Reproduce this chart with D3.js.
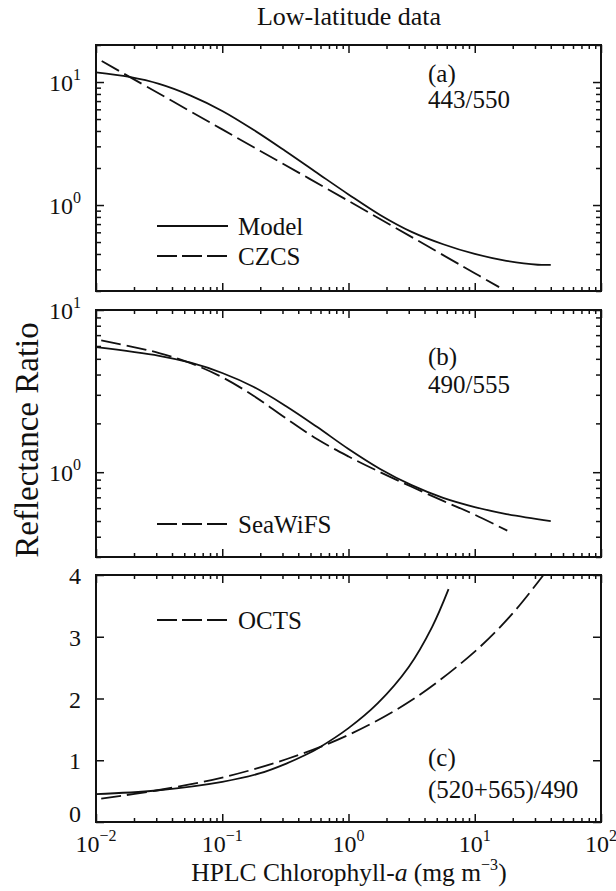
<!DOCTYPE html>
<html>
<head>
<meta charset="utf-8">
<script src="https://d3js.org/d3.v7.min.js"></script>
<style>
  body { margin: 0; background: #fff; }
</style>
</head>
<body>
<div id="chart"></div>
<script>

// chlorophyll (mg m^-3) and reflectance ratios
var chlModelA = [0.01, 0.0184, 0.0316, 0.0562, 0.1, 0.178, 0.316, 0.562, 1, 1.78, 3.16, 5.62, 10, 17.8, 31.6, 40];
var modelA    = [12.0, 11.0, 9.66, 7.76, 5.82, 4.07, 2.75, 1.83, 1.22, 0.83, 0.605, 0.48, 0.40, 0.352, 0.327, 0.326];
var chlCzcs   = [0.0111, 0.1, 1, 10, 15.6];
var czcs      = [14.8, 4.12, 1.08, 0.279, 0.215];

var chlModelB = [0.01, 0.0316, 0.0562, 0.1, 0.178, 0.316, 0.562, 1, 1.78, 3.16, 5.62, 10, 17.8, 40];
var modelB    = [5.9, 5.22, 4.73, 4.09, 3.35, 2.57, 1.905, 1.39, 1.047, 0.832, 0.695, 0.61, 0.552, 0.50];
var chlSeawifs = [0.011, 0.0316, 0.0562, 0.1, 0.178, 0.316, 0.562, 1, 1.78, 3.16, 5.62, 10, 18.1];
var seawifs    = [6.5, 5.43, 4.70, 3.85, 2.95, 2.16, 1.60, 1.25, 1.0, 0.813, 0.665, 0.547, 0.436];

var chlModelC = [0.01, 0.03, 0.1, 0.2, 0.325, 0.45, 0.58, 1, 1.7, 3.0, 4.6, 6.2];
var modelC    = [0.45, 0.51, 0.65, 0.79, 0.95, 1.08, 1.20, 1.52, 1.92, 2.51, 3.16, 3.77];
var chlOcts   = [0.011, 0.03, 0.1, 0.325, 1, 3.2, 10, 20, 35];
var octs      = [0.38, 0.51, 0.72, 1.02, 1.41, 1.98, 2.76, 3.38, 4.0];

var xTickExp = [-2, -1, 0, 1, 2];
var yTickExpA = [1, 0];
var yTickExpB = [1, 0];
var yTicksC = [0, 1, 2, 3, 4];

var FONT = 'Liberation Serif';
var W = 616, H = 891;
var svg = d3.select('#chart').append('svg')
  .attr('width', W).attr('height', H);

var x = d3.scaleLog().domain([0.01, 100]).range([96, 601]);

var panelA = { top: 45, bottom: 291 };
var panelB = { top: 310, bottom: 557 };
var panelC = { top: 575, bottom: 822 };

var yA = d3.scaleLog().domain([0.2, 20]).range([panelA.bottom, panelA.top]);
var yB = d3.scaleLog().domain([0.3, 10]).range([panelB.bottom, panelB.top]);
var yC = d3.scaleLinear().domain([0, 4]).range([panelC.bottom, panelC.top]);

// minor ticks of a log scale inside its domain
function logMinor(scale) {
  var d = scale.domain(), out = [];
  var lo = Math.floor(Math.log10(d[0])), hi = Math.ceil(Math.log10(d[1]));
  for (var e = lo; e < hi; e++) {
    for (var k = 2; k <= 9; k++) {
      var v = k * Math.pow(10, e);
      if (v >= d[0] * 0.999 && v <= d[1] * 1.001) out.push(v);
    }
  }
  return out;
}

var xMajor = xTickExp.map(function (e) { return Math.pow(10, e); });
var xMinor = logMinor(x);

function tickAxis(axisFn, scale, values, len) {
  return axisFn(scale).tickValues(values).tickSizeInner(-len).tickSizeOuter(0).tickFormat('');
}

function drawFrame(p, y, yMajor, yMinor) {
  var g = svg.append('g');
  var h = p.bottom - p.top;

  // x ticks, bottom and top, pointing in
  g.append('g').attr('transform', 'translate(0,' + p.bottom + ')').call(tickAxis(d3.axisBottom, x, xMajor, 8));
  g.append('g').attr('transform', 'translate(0,' + p.bottom + ')').call(tickAxis(d3.axisBottom, x, xMinor, 4));
  g.append('g').attr('transform', 'translate(0,' + p.top + ')').call(tickAxis(d3.axisTop, x, xMajor, 8));
  g.append('g').attr('transform', 'translate(0,' + p.top + ')').call(tickAxis(d3.axisTop, x, xMinor, 4));

  // y ticks, left and right
  g.append('g').attr('transform', 'translate(96,0)').call(tickAxis(d3.axisLeft, y, yMajor, 8));
  g.append('g').attr('transform', 'translate(601,0)').call(tickAxis(d3.axisRight, y, yMajor, 8));
  if (yMinor.length) {
    g.append('g').attr('transform', 'translate(96,0)').call(tickAxis(d3.axisLeft, y, yMinor, 5));
    g.append('g').attr('transform', 'translate(601,0)').call(tickAxis(d3.axisRight, y, yMinor, 5));
  }
  g.selectAll('.domain').remove();
  g.selectAll('.tick line').attr('stroke', '#111').attr('stroke-width', 1.5);

  g.append('rect')
    .attr('x', 96).attr('y', p.top)
    .attr('width', 601 - 96).attr('height', h)
    .attr('fill', 'none').attr('stroke', '#111').attr('stroke-width', 2);
}

drawFrame(panelA, yA, yTickExpA.map(function (e) { return Math.pow(10, e); }), logMinor(yA));
drawFrame(panelB, yB, yTickExpB.map(function (e) { return Math.pow(10, e); }), logMinor(yB));
drawFrame(panelC, yC, yTicksC, []);

function txt(xp, yp, size) {
  return svg.append('text').attr('x', xp).attr('y', yp)
    .attr('font-family', FONT).attr('font-size', size).attr('fill', '#111');
}

function powLabel(xp, yp, exp, anchor) {
  var t = txt(xp, yp, 24).attr('text-anchor', anchor);
  t.append('tspan').text('10');
  t.append('tspan').attr('font-size', 16).attr('dy', -11).text(String(exp).replace('-', '\u2212'));
}

// y tick labels
yTickExpA.forEach(function (e) { powLabel(81, yA(Math.pow(10, e)) + 9, e, 'end'); });
yTickExpB.forEach(function (e) { powLabel(81, yB(Math.pow(10, e)) + 9, e, 'end'); });
yTicksC.forEach(function (d) {
  txt(81, yC(d) + (d === 0 ? 0 : 9), 24).attr('text-anchor', 'end').text(d);
});

// x tick labels
xTickExp.forEach(function (e) { powLabel(x(Math.pow(10, e)), 852, e, 'middle'); });

// curves
var line = function (xs, y) {
  return d3.line()
    .x(function (d, i) { return x(xs[i]); })
    .y(function (d) { return y(d); })
    .curve(d3.curveCatmullRom.alpha(0.5));
};

function curve(xs, ys, y, dashed) {
  svg.append('path')
    .attr('d', line(xs, y)(ys))
    .attr('fill', 'none')
    .attr('stroke', '#111')
    .attr('stroke-width', 1.8)
    .attr('stroke-dasharray', dashed ? '20,6' : null);
}

curve(chlModelA, modelA, yA, false);
curve(chlCzcs, czcs, yA, true);
curve(chlModelB, modelB, yB, false);
curve(chlSeawifs, seawifs, yB, true);
curve(chlModelC, modelC, yC, false);
curve(chlOcts, octs, yC, true);

// legends
function legendItem(yp, label, dashed) {
  svg.append('line')
    .attr('x1', 157).attr('x2', 228).attr('y1', yp).attr('y2', yp)
    .attr('stroke', '#111').attr('stroke-width', 1.8)
    .attr('stroke-dasharray', dashed ? '20,5' : null);
  txt(238, yp + 9, 25).text(label);
}
legendItem(226, 'Model', false);
legendItem(256, 'CZCS', true);
legendItem(524, 'SeaWiFS', true);
legendItem(620, 'OCTS', true);

// panel notes
txt(428, 82, 25).text('(a)');
txt(428, 108, 25).text('443/550');
txt(428, 365, 25).text('(b)');
txt(428, 393, 25).text('490/555');
txt(428, 766, 25).text('(c)');
txt(428, 798, 25).text('(520+565)/490');

// titles
txt(349, 25, 26).attr('text-anchor', 'middle').text('Low-latitude data');

txt(0, 0, 33)
  .attr('transform', 'translate(38,440) rotate(-90)')
  .attr('text-anchor', 'middle')
  .text('Reflectance Ratio');

var xl = txt(349, 881, 25.5).attr('text-anchor', 'middle');
xl.append('tspan').text('HPLC Chlorophyll-');
xl.append('tspan').attr('font-style', 'italic').text('a');
xl.append('tspan').text(' (mg m');
xl.append('tspan').attr('font-size', 16).attr('dy', -11).text('\u22123');
xl.append('tspan').attr('dy', 11).text(')');

</script>
</body>
</html>
